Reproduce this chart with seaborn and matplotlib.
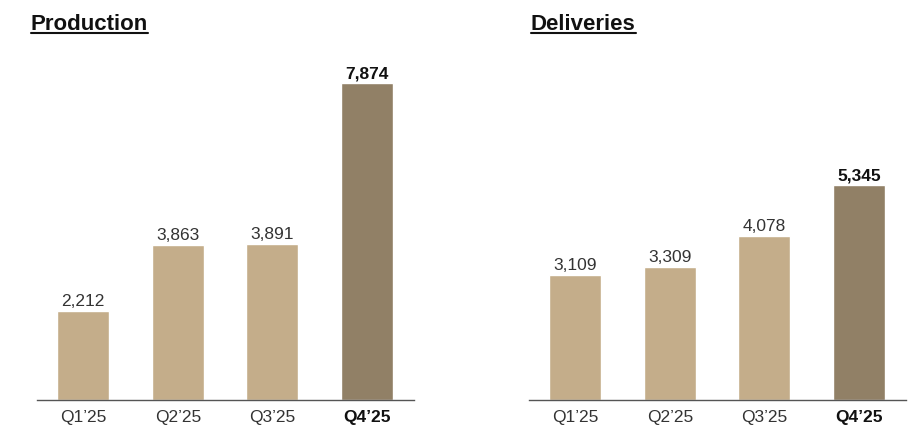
import matplotlib
matplotlib.use("Agg")
import matplotlib.pyplot as plt
import seaborn as sns
from matplotlib.lines import Line2D

quarters = ["Q1\u201925", "Q2\u201925", "Q3\u201925", "Q4\u201925"]
production = [2212, 3863, 3891, 7874]
deliveries = [3109, 3309, 4078, 5345]
titles = ["Production", "Deliveries"]

light = "#C4AD8A"
dark = "#918066"
bar_colors = [light, light, light, dark]

sns.set_style("white")
plt.rcParams['font.family'] = ['Liberation Sans', 'DejaVu Sans']

fig = plt.figure(figsize=(9.16, 4.38), dpi=100)
W, H = 916, 438

def px_axes(x0, x1, ybot, ytop):
    return fig.add_axes([x0 / W, 1 - ybot / H, (x1 - x0) / W, (ybot - ytop) / H])

axes = [px_axes(37, 414, 400, 60), px_axes(529, 906, 400, 60)]
title_x = [31, 531]

for ax, vals, title, tx in zip(axes, [production, deliveries], titles, title_x):
    sns.barplot(x=quarters, y=vals, hue=quarters, palette=bar_colors,
                width=0.55, legend=False, saturation=1, ax=ax)
    ax.set_xlim(-0.49, 3.5)
    ax.set_ylim(0, 8458)
    for s in ["left", "right", "top"]:
        ax.spines[s].set_visible(False)
    ax.spines["bottom"].set_color("#555555")
    ax.spines["bottom"].set_linewidth(1.0)
    ax.set_yticks([])
    ax.set_xlabel("")
    ax.set_ylabel("")
    ax.tick_params(axis="x", length=0, pad=7)
    for i, lab in enumerate(ax.get_xticklabels()):
        lab.set_fontsize(12.5)
        lab.set_color("#333333")
        if i == 3:
            lab.set_fontweight("bold")
            lab.set_color("#111111")

    for i, bar in enumerate(ax.patches):
        v = vals[i]
        ax.annotate(f"{v:,}", (bar.get_x() + bar.get_width() / 2, bar.get_height()),
                    xytext=(0, 1.5), textcoords="offset points", ha="center", va="bottom",
                    fontsize=12.5,
                    fontweight="bold" if i == 3 else "normal",
                    color="#111111" if i == 3 else "#333333")

    fig.text(tx / W, 1 - 30 / H, title, fontsize=16, fontweight="bold",
             color="#111111", ha="left", va="baseline")

fig.canvas.draw()
renderer = fig.canvas.get_renderer()
for t in fig.texts:
    bb = t.get_window_extent(renderer)
    base_y = 1 - 33 / H
    fig.add_artist(Line2D([bb.x0 / W, bb.x1 / W], [base_y, base_y],
                          color="#111111", linewidth=1.5))

fig.savefig("out.png", dpi=100)
